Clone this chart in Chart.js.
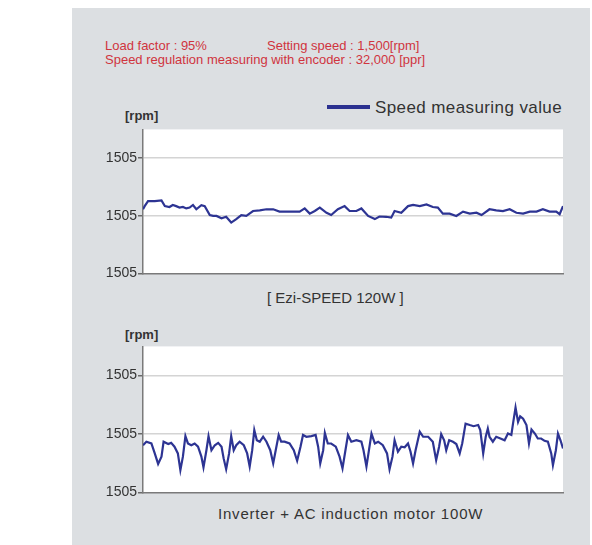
<!DOCTYPE html>
<html>
<head>
<meta charset="utf-8">
<script src="https://cdn.jsdelivr.net/npm/chart.js@4.4.1/dist/chart.umd.min.js"></script>
<style>
  body { margin: 0; background: #fff; font-family: 'Liberation Sans', Arial, sans-serif; }
  .panel { position: absolute; left: 72px; top: 8px; width: 518px; height: 537px; background: #dcdfe2; }
  .txt { position: absolute; white-space: nowrap; line-height: 1; }
  .red { color: #d0343e; font-size: 13px; }
  .unit { font-weight: bold; font-size: 13px; color: #333; }
  .cap { color: #333; }
  canvas { position: absolute; }
</style>
</head>
<body>
<div class="panel"></div>
<div class="txt red" style="left:105px;top:39px;">Load factor : 95%</div>
<div class="txt red" style="left:267px;top:39px;">Setting speed : 1,500[rpm]</div>
<div class="txt red" style="left:105px;top:53px;">Speed regulation measuring with encoder : 32,000 [ppr]</div>

<div style="position:absolute;left:327px;top:105px;width:43px;height:4px;background:#2b3190;"></div>
<div class="txt cap" style="left:375px;top:99px;font-size:17px;letter-spacing:0.4px;">Speed measuring value</div>

<div class="txt unit" style="left:125px;top:109px;">[rpm]</div>
<canvas id="topChart" width="475" height="163" style="left:95px;top:120px;"></canvas>
<div class="txt cap" style="left:267px;top:290px;font-size:15px;">[ Ezi-SPEED 120W ]</div>

<div class="txt unit" style="left:125px;top:328px;">[rpm]</div>
<canvas id="bottomChart" width="475" height="165" style="left:95px;top:337px;"></canvas>
<div class="txt cap" style="left:218px;top:506px;font-size:15px;letter-spacing:0.8px;">Inverter + AC induction motor 100W</div>

<script>
// y axis: every tick reads 1505 in the source
const yTickValues = [1504.8, 1505.0, 1505.2];
const yTickLabels = ['1505', '1505', '1505'];

// Ezi-SPEED 120W (time in % of the window, speed in rpm)
const topTime = [
  0, 0.4, 1.2, 2.8, 4.4, 5.2, 6.3, 7.1, 7.9, 8.7,
  9.5, 10.3, 11.1, 11.9, 12.7, 13.9, 14.7, 15.9, 16.7, 17.5,
  18.7, 19.8, 21.0, 22.2, 23.4, 24.6, 26.2, 27.8, 29.4, 31.0,
  32.5, 34.9, 37.3, 38.5, 39.7, 40.9, 42.1, 43.7, 44.8, 46.4,
  48.0, 49.2, 50.8, 52.0, 53.6, 55.2, 56.3, 57.9, 59.1, 59.9,
  61.5, 63.1, 64.3, 65.9, 67.5, 69.0, 70.2, 71.4, 73.0, 74.6,
  76.2, 77.8, 79.4, 80.6, 82.5, 84.1, 85.7, 87.3, 88.9, 90.5,
  92.1, 93.7, 95.2, 96.8, 98.4, 99.2, 100
];
const topRpm = [
  1505.023, 1505.034, 1505.051, 1505.051, 1505.054, 1505.034, 1505.031, 1505.038, 1505.034, 1505.029,
  1505.031, 1505.026, 1505.029, 1505.038, 1505.023, 1505.037, 1505.034, 1505.003, 1505.000, 1505.000,
  1504.992, 1504.997, 1504.977, 1504.989, 1505.003, 1505.000, 1505.017, 1505.019, 1505.023, 1505.023,
  1505.015, 1505.015, 1505.015, 1505.026, 1505.008, 1505.017, 1505.029, 1505.011, 1505.003, 1505.023,
  1505.034, 1505.017, 1505.017, 1505.026, 1505.000, 1504.989, 1504.998, 1504.997, 1504.994, 1505.017,
  1505.011, 1505.034, 1505.038, 1505.034, 1505.040, 1505.031, 1505.029, 1505.008, 1505.008, 1505.000,
  1505.015, 1505.008, 1505.011, 1505.003, 1505.023, 1505.019, 1505.017, 1505.023, 1505.011, 1505.008,
  1505.015, 1505.015, 1505.023, 1505.015, 1505.015, 1505.006, 1505.034
];

// Inverter + AC induction motor 100W
const bottomTime = [
  0, 0.8, 2.0, 2.8, 3.6, 4.4, 4.9, 6.0, 6.7, 7.5,
  8.3, 8.9, 9.5, 10.1, 10.7, 11.5, 12.3, 13.1, 13.9, 14.4,
  15.1, 15.6, 16.3, 17.1, 17.9, 18.7, 19.2, 19.8, 20.5, 21.0,
  21.6, 22.2, 23.0, 24.0, 24.8, 25.4, 26.0, 26.5, 27.1, 27.8,
  28.6, 29.4, 30.3, 31.0, 31.6, 32.3, 32.9, 33.7, 34.9, 35.9,
  36.7, 37.5, 38.1, 38.9, 40.1, 41.1, 41.7, 42.2, 42.9, 43.3,
  44.0, 44.8, 45.9, 46.8, 47.5, 48.2, 48.8, 49.6, 50.8, 52.0,
  52.5, 53.2, 53.8, 54.4, 55.2, 56.0, 57.1, 58.1, 58.7, 59.4,
  59.9, 60.7, 61.5, 62.3, 63.1, 63.7, 64.3, 64.9, 65.9, 66.7,
  67.9, 69.0, 69.8, 70.5, 71.0, 71.7, 72.2, 72.9, 73.8, 74.6,
  75.4, 76.0, 76.8, 77.8, 78.7, 79.8, 80.3, 81.0, 81.6, 82.1,
  82.5, 83.3, 84.1, 85.1, 86.1, 86.9, 87.7, 88.1, 88.7, 89.3,
  89.8, 90.5, 91.3, 91.9, 92.5, 93.3, 94.0, 94.8, 95.6, 96.4,
  97.2, 97.6, 98.3, 98.8, 99.4, 100
];
const bottomRpm = [
  1504.962, 1504.974, 1504.968, 1504.934, 1504.898, 1504.923, 1504.974, 1504.966, 1504.970, 1504.957,
  1504.934, 1504.877, 1504.923, 1504.993, 1504.968, 1504.962, 1504.968, 1504.957, 1504.923, 1504.886,
  1504.945, 1504.993, 1504.945, 1504.962, 1504.970, 1504.957, 1504.917, 1504.880, 1504.934, 1504.993,
  1504.945, 1504.962, 1504.974, 1504.962, 1504.934, 1504.889, 1504.945, 1505.014, 1504.979, 1504.974,
  1504.991, 1504.974, 1504.945, 1504.900, 1504.945, 1504.997, 1504.974, 1504.974, 1504.968, 1504.945,
  1504.909, 1504.957, 1504.997, 1504.991, 1504.993, 1504.997, 1504.957, 1504.900, 1504.945, 1505.004,
  1504.968, 1504.968, 1504.957, 1504.923, 1504.883, 1504.945, 1504.997, 1504.974, 1504.979, 1504.974,
  1504.945, 1504.889, 1504.945, 1505.002, 1504.968, 1504.974, 1504.962, 1504.934, 1504.880, 1504.923,
  1504.979, 1504.940, 1504.957, 1504.955, 1504.968, 1504.940, 1504.900, 1504.945, 1505.008, 1504.991,
  1504.991, 1504.974, 1504.911, 1504.957, 1505.000, 1504.979, 1504.945, 1504.979, 1504.974, 1504.966,
  1504.934, 1504.968, 1505.036, 1505.031, 1505.027, 1505.031, 1505.014, 1504.934, 1504.991, 1505.019,
  1504.991, 1504.974, 1504.991, 1504.985, 1504.979, 1505.002, 1504.997, 1505.036, 1505.091, 1505.042,
  1505.061, 1505.053, 1505.031, 1504.968, 1505.016, 1505.002, 1504.985, 1504.985, 1504.977, 1504.974,
  1504.934, 1504.894, 1504.945, 1505.002, 1504.979, 1504.951
];

const plotBg = {
    id: 'plotBg',
    beforeDraw(chart) {
        const { ctx, chartArea: a } = chart;
        ctx.save();
        ctx.fillStyle = '#ffffff';
        ctx.fillRect(a.left, a.top, a.right - a.left, a.bottom - a.top);
        ctx.restore();
    }
};

function speedChart(id, times, rpm) {
    new Chart(document.getElementById(id), {
        type: 'line',
        data: {
            datasets: [{
                label: 'Speed measuring value',
                data: times.map((t, i) => ({ x: t, y: rpm[i] })),
                borderColor: '#2d3493',
                borderWidth: 2.2,
                pointRadius: 0,
                tension: 0
            }]
        },
        options: {
            responsive: false,
            animation: false,
            layout: { padding: { top: 8, right: 7, bottom: 7, left: 0 } },
            plugins: { legend: { display: false }, tooltip: { enabled: false } },
            scales: {
                x: {
                    type: 'linear',
                    min: 0,
                    max: 100,
                    ticks: { display: false },
                    grid: { display: false, drawTicks: false },
                    border: { color: '#7a7a7a', width: 1.5 }
                },
                y: {
                    min: 1504.8,
                    max: 1505.3,
                    afterBuildTicks: s => { s.ticks = yTickValues.map(v => ({ value: v })); },
                    afterFit: s => { s.width = 48; },
                    ticks: {
                        callback: (v, i) => yTickLabels[i],
                        font: { family: 'Liberation Sans', size: 14 },
                        color: '#333',
                        padding: 1
                    },
                    grid: {
                        color: c => c.index === 0 ? 'rgba(0,0,0,0)' : '#d4d4d4',
                        lineWidth: 1.5,
                        tickLength: 5,
                        tickColor: '#6a6a6a'
                    },
                    border: { color: '#7a7a7a', width: 1.5 }
                }
            }
        },
        plugins: [plotBg]
    });
}

speedChart('topChart', topTime, topRpm);
speedChart('bottomChart', bottomTime, bottomRpm);
</script>
</body>
</html>
